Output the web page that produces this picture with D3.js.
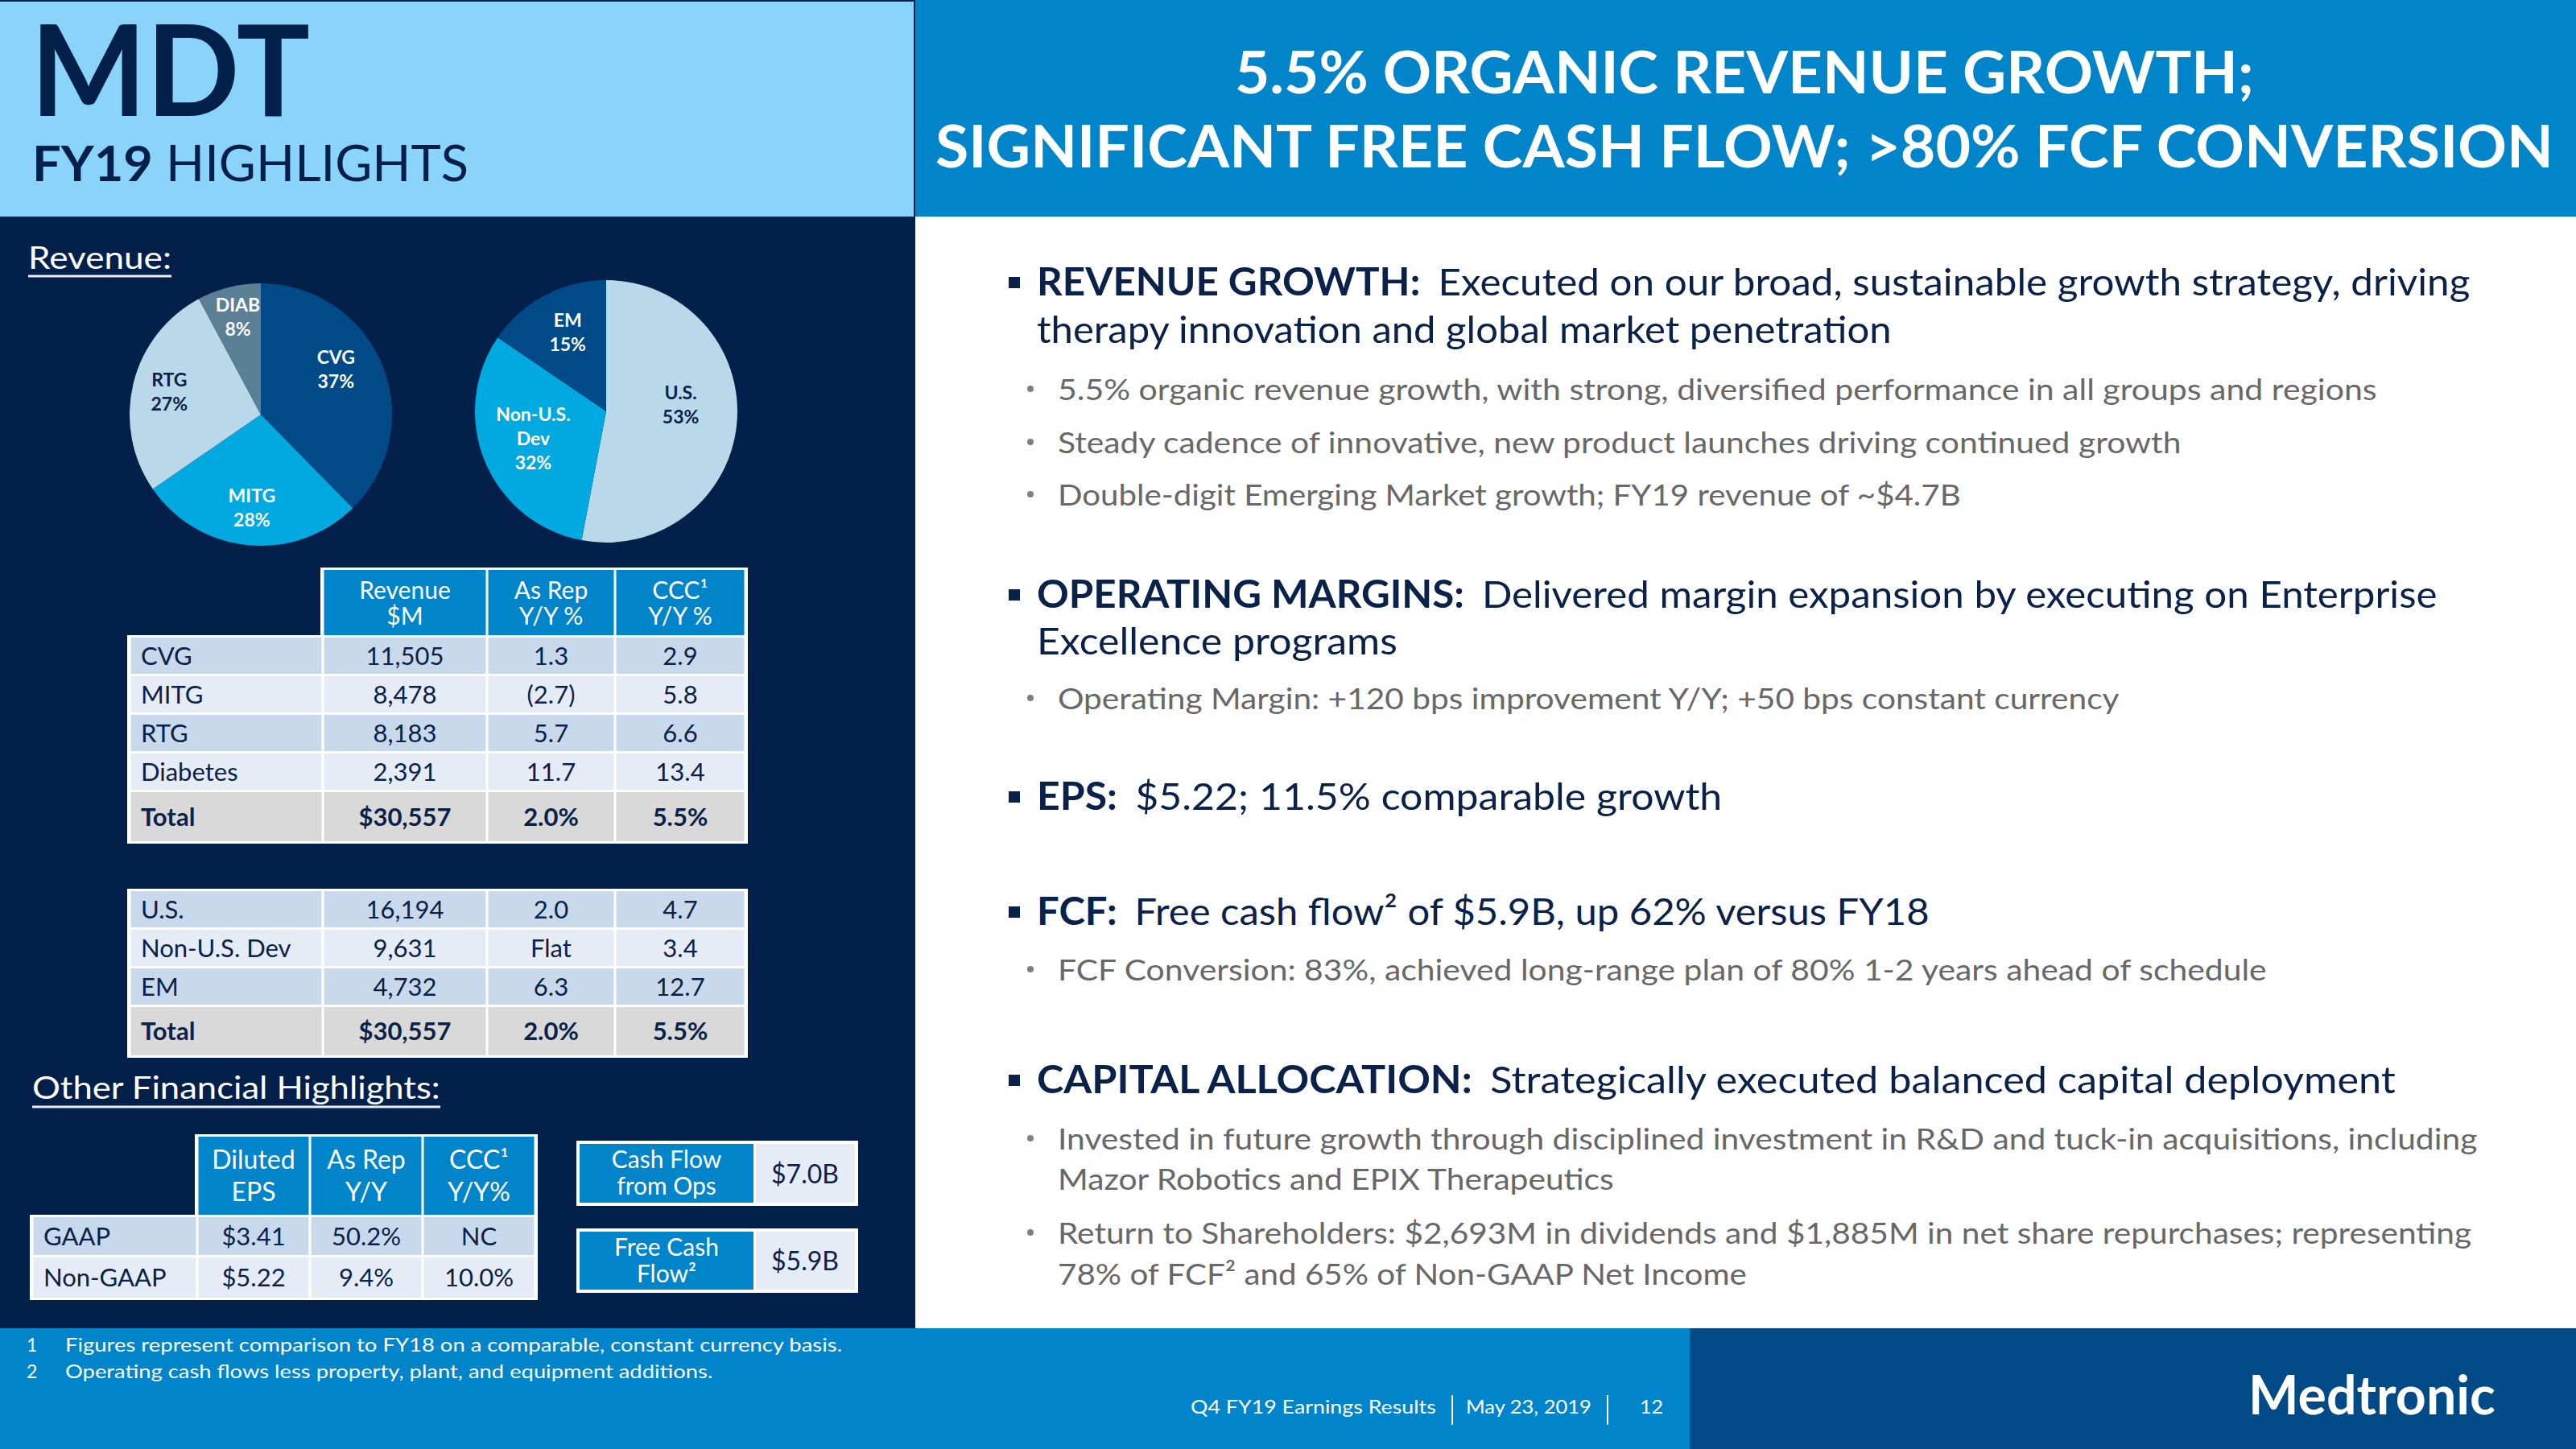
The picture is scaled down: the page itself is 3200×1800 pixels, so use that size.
<!DOCTYPE html>
<html><head><meta charset="utf-8">
<script src="https://cdn.jsdelivr.net/npm/d3@7"></script>
<style>
html,body{margin:0;padding:0;background:#fff;}
svg{display:block;}
text{font-family:Lato,"Open Sans",sans-serif;}
</style>
</head><body>
<svg id="c" width="3200" height="1800"></svg>
<script>
// ---------------- DATA ----------------
const groupNames = ["CVG","MITG","RTG","Diabetes"];
const groupPieLabels = [["CVG"],["MITG"],["RTG"],["DIAB"]];
const groupPiePct = ["37%","28%","27%","8%"];
const groupRevenue = [11505, 8478, 8183, 2391];
const groupAsRep = ["1.3","(2.7)","5.7","11.7"];
const groupCCC = ["2.9","5.8","6.6","13.4"];

const regionNames = ["U.S.","Non-U.S. Dev","EM"];
const regionPieLabels = [["U.S."],["Non-U.S.","Dev"],["EM"]];
const regionPiePct = ["53%","32%","15%"];
const regionRevenue = [16194, 9631, 4732];
const regionAsRep = ["2.0","Flat","6.3"];
const regionCCC = ["4.7","3.4","12.7"];

const totalLabel = "Total";
const totalAsRep = "2.0%";
const totalCCC = "5.5%";

const revHeaders = [["Revenue","$M"],["As Rep","Y/Y %"],["CCC\u00B9","Y/Y %"]];

const epsHeaders = [["Diluted","EPS"],["As Rep","Y/Y"],["CCC\u00B9","Y/Y%"]];
const epsRows = ["GAAP","Non-GAAP"];
const epsDiluted = ["$3.41","$5.22"];
const epsAsRep = ["50.2%","9.4%"];
const epsCCC = ["NC","10.0%"];

const cashLabels = [["Cash Flow","from Ops"],["Free Cash","Flow\u00B2"]];
const cashValues = ["$7.0B","$5.9B"];

const titleLines = ["5.5% ORGANIC REVENUE GROWTH;","SIGNIFICANT FREE CASH FLOW; >80% FCF CONVERSION"];

const bulletHeads = ["REVENUE GROWTH:","OPERATING MARGINS:","EPS:","FCF:","CAPITAL ALLOCATION:"];
const bulletTexts = [
  ["Executed on our broad, sustainable growth strategy, driving","therapy innovation and global market penetration"],
  ["Delivered margin expansion by executing on Enterprise","Excellence programs"],
  ["$5.22; 11.5% comparable growth"],
  ["Free cash flow\u00B2 of $5.9B, up 62% versus FY18"],
  ["Strategically executed balanced capital deployment"]
];
const subBullets = [
  [["5.5% organic revenue growth, with strong, diversified performance in all groups and regions"],
   ["Steady cadence of innovative, new product launches driving continued growth"],
   ["Double-digit Emerging Market growth; FY19 revenue of ~$4.7B"]],
  [["Operating Margin: +120 bps improvement Y/Y; +50 bps constant currency"]],
  [],
  [["FCF Conversion: 83%, achieved long-range plan of 80% 1-2 years ahead of schedule"]],
  [["Invested in future growth through disciplined investment in R&D and tuck-in acquisitions, including","Mazor Robotics and EPIX Therapeutics"],
   ["Return to Shareholders:  $2,693M in dividends and $1,885M in net share repurchases; representing","78% of FCF\u00B2 and 65% of Non-GAAP Net Income"]]
];

const footnotes = [["1","Figures represent comparison to FY18 on a comparable, constant currency basis."],
                   ["2","Operating cash flows less property, plant, and equipment additions."]];
const footerParts = ["Q4 FY19 Earnings Results","May 23, 2019","12"];

// ---------------- LAYOUT / STYLE ----------------
const C = {navy:"#03204A", text:"#0A2149", blue:"#0085CA", dblue:"#004B87", cyan:"#00A9E0",
  light:"#B9D9EB", slate:"#5B7F95", sky:"#8AD3FB", row1:"#C9D9EC", row2:"#E6ECF6",
  total:"#D9D9D9", gray:"#686868", white:"#FFFFFF"};
const mainLineBaselines = [367,426, 755,813, 1006, 1149, 1358];
const mainLineEnds      = [3047,2350, 3006,1736, 2117, 2375, 2954];
const subLineBaselines  = [497,563,628, 881, 1218, 1428,1478, 1545,1596];
const subLineEnds       = [2953,2710,2436, 2633, 2816, 3078,2005, 3070,2170];
const groupLabelNudge  = [[-15,-12],[0,0],[0,0],[0,-8]];
const regionLabelNudge = [[-5,-17],[0,-3],[-2,-11]];

const svg = d3.select("#c");

function placeText(parent, x, y, parts, o) {
  o = o || {};
  const g = parent.append("g").attr("transform", `translate(${x},${y})`);
  const t = g.append("text")
    .attr("text-anchor", o.anchor || "start")
    .attr("font-size", o.size || 30)
    .attr("font-weight", o.weight || 400)
    .attr("fill", o.fill || C.text);
  (Array.isArray(parts) ? parts : [parts]).forEach(p => {
    if (typeof p === "string") p = {t:p};
    const ts = t.append("tspan").text(p.t);
    if (p.weight) ts.attr("font-weight", p.weight);
    if (p.fill) ts.attr("fill", p.fill);
    if (p.dx) ts.attr("dx", p.dx);
  });
  if (o.width) {
    const w = t.node().getComputedTextLength();
    if (w > 0) {
      const sx = o.width / w;
      g.attr("transform", `translate(${x},${y}) scale(${sx},1)`);
    }
  }
  return g;
}

function draw() {
  // ---------- backgrounds ----------
  svg.append("rect").attr("x",0).attr("y",0).attr("width",1137).attr("height",1650).attr("fill",C.navy);
  svg.append("rect").attr("x",0).attr("y",2).attr("width",1135).attr("height",267).attr("fill",C.sky);
  svg.append("rect").attr("x",1137).attr("y",0).attr("width",2063).attr("height",269).attr("fill",C.blue);
  svg.append("rect").attr("x",1137).attr("y",269).attr("width",2063).attr("height",1381).attr("fill",C.white);
  svg.append("rect").attr("x",0).attr("y",1650).attr("width",2099).attr("height",150).attr("fill",C.blue);
  svg.append("rect").attr("x",2099).attr("y",1650).attr("width",1101).attr("height",150).attr("fill",C.dblue);

  // ---------- left header ----------
  placeText(svg, 38, 144, "MDT", {size:158, weight:700, fill:C.navy, width:347});
  placeText(svg, 40, 225, [{t:"FY19",weight:700},{t:" HIGHLIGHTS",weight:400}], {size:61, fill:C.navy, width:542});

  // ---------- right title ----------
  placeText(svg, 2167, 116, titleLines[0], {size:72, weight:700, fill:C.white, anchor:"middle", width:1266});
  placeText(svg, 2167, 208, titleLines[1], {size:72, weight:700, fill:C.white, anchor:"middle", width:2010});

  // ---------- section labels ----------
  placeText(svg, 35, 334, "Revenue:", {size:38, fill:C.white, width:178});
  svg.append("line").attr("x1",35).attr("x2",213).attr("y1",343).attr("y2",343).attr("stroke","#E8EEF6").attr("stroke-width",3);
  placeText(svg, 40, 1365, "Other Financial Highlights:", {size:38, fill:C.white, width:507});
  svg.append("line").attr("x1",40).attr("x2",547).attr("y1",1375).attr("y2",1375).attr("stroke","#E8EEF6").attr("stroke-width",3);

  // ---------- pies ----------
  const pie = d3.pie().sort(null).value(d => d);
  function drawPie(cx, cy, r, values, colors, labels, pcts, labelR, nudge) {
    const g = svg.append("g").attr("transform", `translate(${cx},${cy})`);
    const arcs = pie(values);
    const arc = d3.arc().innerRadius(0).outerRadius(r);
    const lab = d3.arc().innerRadius(labelR).outerRadius(labelR);
    g.selectAll("path.slice").data(arcs).join("path").attr("class","slice")
      .attr("d", arc).attr("fill", (d,i) => colors[i]);
    arcs.forEach((a, i) => {
      let [lx, ly] = lab.centroid(a);
      lx += nudge[i][0]; ly += nudge[i][1];
      const lines = labels[i].concat([pcts[i]]);
      const fill = colors[i] === C.light ? C.text : C.white;
      const t = g.append("text").attr("text-anchor","middle").attr("font-size",23)
        .attr("font-weight",700).attr("fill",fill);
      const y0 = ly - (lines.length - 1) * 30 / 2 + 8;
      lines.forEach((ln, k) => t.append("tspan").attr("x", lx).attr("y", y0 + k*30).text(ln));
    });
  }
  drawPie(324, 515, 163, groupRevenue, [C.dblue, C.cyan, C.light, C.slate], groupPieLabels, groupPiePct, 117, groupLabelNudge);
  drawPie(753, 511, 163, regionRevenue, [C.light, C.cyan, C.dblue], regionPieLabels, regionPiePct, 98, regionLabelNudge);

  // ---------- tables ----------
  const fmt = d3.format(",");
  function drawTable(cfg) {
    const g = svg.append("g");
    const cols = cfg.cols;
    const last = cols.length - 1;
    const rTop = cfg.rowBoxes[0][0], lastBox = cfg.rowBoxes[cfg.rowBoxes.length-1];
    const rBot = lastBox[0] + lastBox[1];
    if (cfg.header) {
      g.append("rect").attr("x", cols[1]-3).attr("y", cfg.header[0]-3)
        .attr("width", cols[last]-cols[1]+6).attr("height", cfg.header[1]-cfg.header[0]+6).attr("fill", C.white);
    }
    g.append("rect").attr("x", cols[0]-3).attr("y", rTop-3)
      .attr("width", cols[last]-cols[0]+6).attr("height", rBot-rTop+6).attr("fill", C.white);
    if (cfg.header) {
      const hy0 = cfg.header[0], hy1 = cfg.header[1], hc = (hy0+hy1)/2;
      cfg.headers.forEach((lines, j) => {
        const x0 = cols[j+1], x1 = cols[j+2];
        g.append("rect").attr("x", x0+1.5).attr("y", hy0).attr("width", x1-x0-3).attr("height", hy1-hy0).attr("fill", C.blue);
        lines.forEach((ln, k) => g.append("text").attr("text-anchor","middle").attr("font-size", cfg.hSize)
          .attr("fill", C.white).attr("x", (x0+x1)/2)
          .attr("y", hc - cfg.hSpacing/2 + 11 + k*cfg.hSpacing).text(ln));
      });
    }
    const rowG = g.selectAll("g.row").data(cfg.rows).join("g").attr("class","row");
    rowG.each(function(row, i) {
      const [top, h] = cfg.rowBoxes[i];
      const sel = d3.select(this);
      row.forEach((cell, j) => {
        sel.append("rect").attr("x", cols[j]+1.5).attr("y", top).attr("width", cols[j+1]-cols[j]-3)
          .attr("height", h).attr("fill", cfg.fills[i]);
        const txt = sel.append("text").attr("font-size", cfg.size).attr("fill", C.text)
          .attr("font-weight", cfg.bold[i] ? 700 : 400)
          .attr("y", top + h/2 + 11).text(cell);
        if (j === 0) txt.attr("x", cols[0] + 14);
        else txt.attr("x", (cols[j]+cols[j+1])/2).attr("text-anchor","middle");
      });
    });
  }

  const t1rows = groupNames.map((n,i) => [n, fmt(groupRevenue[i]), groupAsRep[i], groupCCC[i]])
    .concat([[totalLabel, "$" + fmt(d3.sum(groupRevenue)), totalAsRep, totalCCC]]);
  drawTable({cols:[161,401,605,764,926], header:[708,789], headers:revHeaders, hSpacing:32, size:31, hSize:30,
    rows:t1rows, rowBoxes:[[792,45],[840,45],[888,45],[936,45],[984,61]],
    fills:[C.row1,C.row2,C.row1,C.row2,C.total], bold:[0,0,0,0,1]});

  const t2rows = regionNames.map((n,i) => [n, fmt(regionRevenue[i]), regionAsRep[i], regionCCC[i]])
    .concat([[totalLabel, "$" + fmt(d3.sum(regionRevenue)), totalAsRep, totalCCC]]);
  drawTable({cols:[161,401,605,764,926], header:null, size:31,
    rows:t2rows, rowBoxes:[[1107,45],[1155,45],[1203,45],[1251,60]],
    fills:[C.row1,C.row2,C.row1,C.total], bold:[0,0,0,1]});

  const epsTable = epsRows.map((n,i) => [n, epsDiluted[i], epsAsRep[i], epsCCC[i]]);
  drawTable({cols:[40,245,385,525,665], header:[1412,1509], headers:epsHeaders, hSpacing:40, size:31, hSize:32,
    rows:epsTable, rowBoxes:[[1512,47],[1562,50]],
    fills:[C.row1,C.row2], bold:[0,0]});

  // ---------- cash boxes ----------
  const boxTops = [1417,1526], boxH = [81,80];
  cashValues.forEach((v, i) => {
    const y = boxTops[i], h = boxH[i], c = y + h/2;
    svg.append("rect").attr("x",716).attr("y",y).attr("width",350).attr("height",h).attr("fill",C.white);
    svg.append("rect").attr("x",720).attr("y",y+4).attr("width",216).attr("height",h-8).attr("fill",C.blue);
    svg.append("rect").attr("x",939).attr("y",y+4).attr("width",123).attr("height",h-8).attr("fill",C.row2);
    cashLabels[i].forEach((ln,k) => svg.append("text").attr("text-anchor","middle").attr("font-size",30)
      .attr("fill",C.white).attr("x",828).attr("y", c - 16.5 + 10 + k*33).text(ln));
    svg.append("text").attr("x",1000).attr("y",c+12).attr("text-anchor","middle")
      .attr("font-size",32).attr("fill",C.text).text(v);
  });

  // ---------- right bullets ----------
  let mi = 0, si = 0;
  bulletHeads.forEach((head, b) => {
    bulletTexts[b].forEach((ln, k) => {
      const y = mainLineBaselines[mi], end = mainLineEnds[mi];
      if (k === 0) {
        svg.append("rect").attr("x",1253).attr("y",y-23).attr("width",14).attr("height",14).attr("fill",C.text);
        placeText(svg, 1288, y, [{t:head, weight:700},{t:ln, dx:21}], {size:47, fill:C.text, width:end-1288});
      } else {
        placeText(svg, 1288, y, ln, {size:47, fill:C.text, width:end-1288});
      }
      mi++;
    });
    subBullets[b].forEach(sub => {
      sub.forEach((ln, k) => {
        const y = subLineBaselines[si], end = subLineEnds[si];
        if (k === 0) svg.append("circle").attr("cx",1280).attr("cy",y-14).attr("r",4).attr("fill","#808080");
        placeText(svg, 1314, y, ln, {size:37, fill:C.gray, width:end-1314});
        si++;
      });
    });
  });

  // ---------- footer ----------
  const fnBase = [1679, 1712], fnEnds = [1047, 886];
  footnotes.forEach((f, i) => {
    svg.append("text").attr("x",33).attr("y",fnBase[i]).attr("font-size",23).attr("fill",C.white).text(f[0]);
    placeText(svg, 81, fnBase[i], f[1], {size:23, fill:C.white, width:fnEnds[i]-81});
  });
  const fpX = [1479,1821,2037], fpW = [305,156,29];
  footerParts.forEach((p, i) => placeText(svg, fpX[i], 1756, p, {size:24, fill:C.white, width:fpW[i]}));
  [1804,1997].forEach(x => svg.append("line").attr("x1",x).attr("x2",x).attr("y1",1733).attr("y2",1770)
    .attr("stroke",C.white).attr("stroke-width",2));
  placeText(svg, 2793, 1757, "Medtronic", {size:67, weight:700, fill:C.white, width:307});
}

if (document.fonts && document.fonts.ready) document.fonts.ready.then(draw); else draw();
</script>
</body></html>
